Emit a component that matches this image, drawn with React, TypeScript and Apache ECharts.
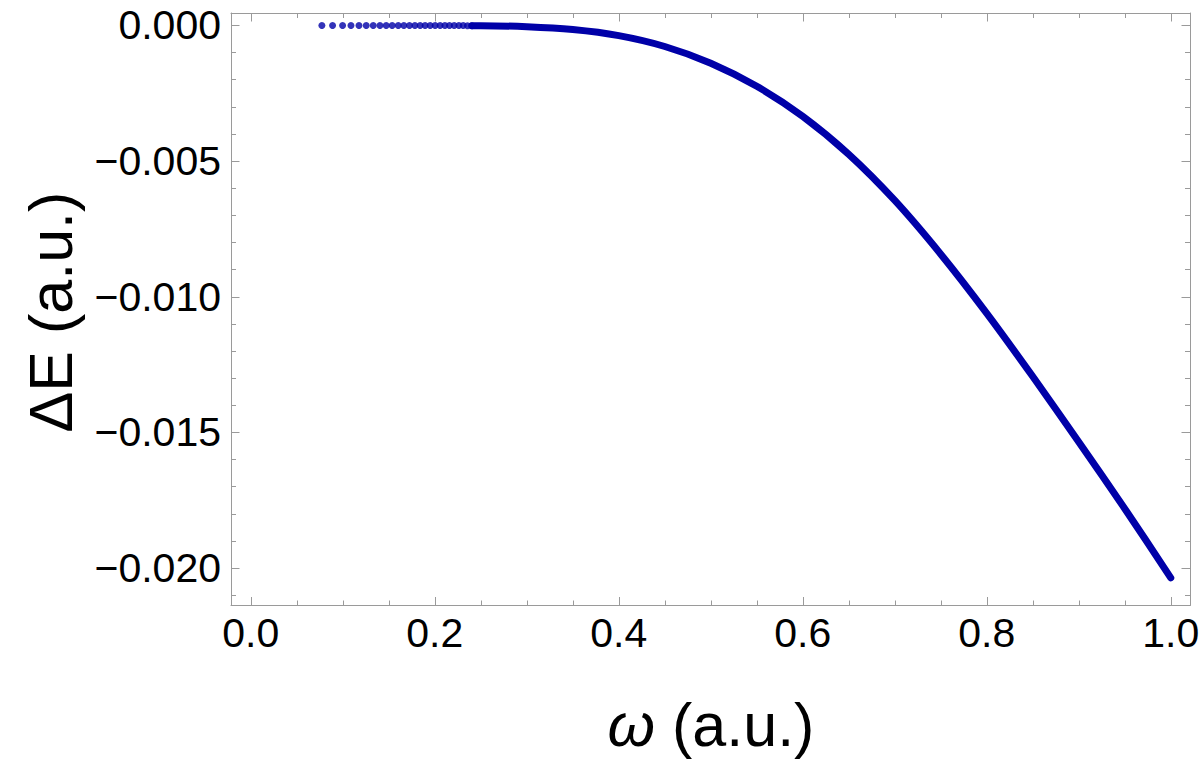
import React, { useEffect, useRef } from "react";
import * as echarts from "echarts";

// Separate dots at small ω
const dotOmega = [
  0.0773, 0.0889, 0.0998, 0.1089, 0.1176, 0.1255, 0.1331, 0.1404, 0.1472,
  0.1537, 0.1603, 0.1664, 0.1725, 0.1784, 0.1841, 0.1895, 0.195, 0.2004,
  0.2058, 0.211, 0.216, 0.2211, 0.2262, 0.2309, 0.2355, 0.2403,
];
const dotDE = [
  0, 0, 0, 0, 0, 0, 0, 0, 0, 0, 0, 0, 0, 0, 0, 0, 0, 0, 0, 0, 0, 0, 0, 0,
  -0.00001, -0.00001,
];

// Dense part of the curve (dots merge into a thick band)
const curveOmega = [
  0.2403, 0.25, 0.3, 0.35, 0.4, 0.45, 0.5, 0.55, 0.6, 0.65, 0.7, 0.75, 0.8,
  0.85, 0.9, 0.95, 1.0,
];
const curveDE = [
  -0.00001, -0.00001, -0.000045, -0.00015, -0.000375, -0.000775, -0.00139,
  -0.00224, -0.00335, -0.00475, -0.00645, -0.00843, -0.01061, -0.01294,
  -0.01535, -0.01781, -0.02036,
];

const xMajor = [0, 0.2, 0.4, 0.6, 0.8, 1.0];
const xMinor = [
  0.05, 0.1, 0.15, 0.25, 0.3, 0.35, 0.45, 0.5, 0.55, 0.65, 0.7, 0.75, 0.85,
  0.9, 0.95,
];
const yMajor = [0, -0.005, -0.01, -0.015, -0.02];
const yMinor = [
  -0.001, -0.002, -0.003, -0.004, -0.006, -0.007, -0.008, -0.009, -0.011,
  -0.012, -0.013, -0.014, -0.016, -0.017, -0.018, -0.019, -0.021,
];

const X_MIN = -0.0215;
const X_MAX = 1.0209;
const Y_MIN = -0.02138;
const Y_MAX = 0.00046;

const FRAME = "#9a9a9a";
const BLUE = "#0000a8";
const FONT = "'Liberation Sans', Arial, Helvetica, sans-serif";

function fmtY(v: number) {
  const s = Math.abs(v) < 1e-12 ? "0.000" : v.toFixed(3);
  return s.replace("-", "\u2212");
}

export default function App() {
  const ref = useRef<HTMLDivElement>(null);
  useEffect(() => {
    if (!ref.current) return;
    const chart = echarts.init(ref.current, undefined, { renderer: "svg" });

    const xAxisBase = (position: "bottom" | "top", ticks: number[], len: number, labels: boolean, line: boolean) => ({
      type: "value",
      position,
      min: X_MIN,
      max: X_MAX,
      gridIndex: 0,
      splitLine: { show: false },
      axisLine: { show: line, onZero: false, lineStyle: { color: FRAME, width: 1 } },
      axisTick: {
        show: true,
        inside: true,
        length: len,
        customValues: ticks,
        lineStyle: { color: FRAME, width: 1 },
      },
      axisLabel: labels
        ? {
            show: true,
            customValues: xMajor,
            formatter: (v: number) => v.toFixed(1),
            fontSize: 41,
            fontFamily: FONT,
            color: "#000",
            margin: 7,
          }
        : { show: false },
    });
    const yAxisBase = (position: "left" | "right", ticks: number[], len: number, labels: boolean, line: boolean) => ({
      type: "value",
      position,
      min: Y_MIN,
      max: Y_MAX,
      gridIndex: 0,
      splitLine: { show: false },
      axisLine: { show: line, onZero: false, lineStyle: { color: FRAME, width: 1 } },
      axisTick: {
        show: true,
        inside: true,
        length: len,
        customValues: ticks,
        lineStyle: { color: FRAME, width: 1 },
      },
      axisLabel: labels
        ? {
            show: true,
            customValues: yMajor,
            formatter: (v: number) => fmtY(v),
            fontSize: 41,
            fontFamily: FONT,
            color: "#000",
            margin: 10,
          }
        : { show: false },
    });

    chart.setOption({
      animation: false,
      backgroundColor: "#fff",
      grid: {
        left: 231,
        top: 13,
        right: 10,
        bottom: 155.5,
        containLabel: false,
        outerBoundsMode: "none",
      },
      xAxis: [
        xAxisBase("bottom", xMajor, 8.5, true, true),
        xAxisBase("bottom", xMinor, 5, false, false),
        xAxisBase("top", xMajor, 8.5, false, true),
        xAxisBase("top", xMinor, 5, false, false),
      ],
      yAxis: [
        yAxisBase("left", yMajor, 8.5, true, true),
        yAxisBase("left", yMinor, 5, false, false),
        yAxisBase("right", yMajor, 8.5, false, true),
        yAxisBase("right", yMinor, 5, false, false),
      ],
      series: [
        {
          type: "line",
          xAxisIndex: 0,
          yAxisIndex: 0,
          data: curveOmega.map((w, i) => [w, curveDE[i]]),
          showSymbol: false,
          symbol: "none",
          smooth: 0.3,
          lineStyle: { color: BLUE, width: 7, cap: "round", join: "round" },
          z: 2,
        },
        {
          type: "scatter",
          xAxisIndex: 0,
          yAxisIndex: 0,
          data: dotOmega.map((w, i) => [w, dotDE[i]]),
          symbol: "circle",
          symbolSize: 7,
          itemStyle: { color: BLUE },
          z: 3,
        },
      ],
      graphic: [
        {
          type: "text",
          x: 51,
          y: 312,
          rotation: Math.PI / 2,
          style: {
            text: "\u0394E (a.u.)",
            fontSize: 61,
            fontFamily: FONT,
            fill: "#000",
            align: "center",
            verticalAlign: "middle",
          },
        },
        {
          type: "text",
          x: 711,
          y: 725,
          style: {
            text: "{i|\u03c9} (a.u.)",
            fontSize: 61,
            fontFamily: FONT,
            fill: "#000",
            align: "center",
            verticalAlign: "middle",
            rich: {
              i: { fontSize: 61, fontFamily: FONT, fontStyle: "italic", fill: "#000" },
            },
          },
        },
      ],
    });
    return () => chart.dispose();
  }, []);
  return (
    <div
      ref={ref}
      style={{ position: "fixed", left: 0, top: 0, width: 1200, height: 761, background: "#fff" }}
    />
  );
}
